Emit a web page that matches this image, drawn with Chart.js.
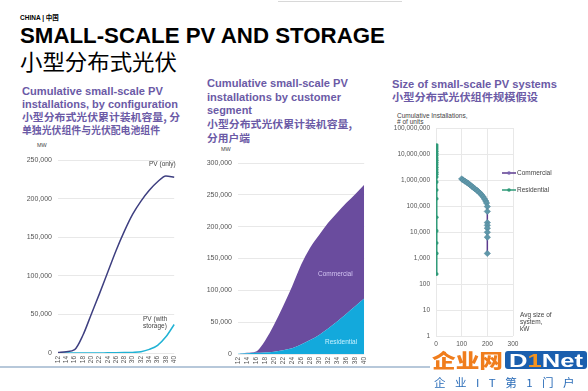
<!DOCTYPE html>
<html>
<head>
<meta charset="utf-8">
<script src="https://cdn.jsdelivr.net/npm/chart.js@4"></script>
<style>
  body { margin: 0; width: 588px; height: 391px; background: #fff; position: relative; overflow: hidden;
         font-family: "Liberation Sans", Arial, sans-serif; }
  .t { position: absolute; white-space: nowrap; line-height: 1; }
  .purple { color: #6b5aa6; font-weight: bold; font-size: 11px; }
  .cjk { font-family: "Noto Sans CJK SC", sans-serif; }
  .small { font-size: 6.5px; color: #444; }
  .box { position: absolute; }
</style>
</head>
<body>

<div class="t" style="left:20px;top:13.5px;font-size:6.5px;font-weight:bold;">CHINA | <span class="cjk">中国</span></div>
<div class="t" data-w="365" style="left:20px;top:25px;font-size:22px;font-weight:bold;">SMALL-SCALE PV AND STORAGE</div>
<div class="t cjk" data-w="157" style="left:20px;top:49px;font-size:22px;">小型分布式光伏</div>

<!-- chart 1 titles -->
<div class="t purple" data-w="141" style="left:22px;top:86px;">Cumulative small-scale PV</div>
<div class="t purple" data-w="156" style="left:22px;top:99px;">installations, by configuration</div>
<div class="t purple cjk" data-w="158" style="left:22px;top:111.5px;font-size:10px;">小型分布式光伏累计装机容量, 分</div>
<div class="t purple cjk" data-w="138" style="left:22px;top:124.5px;font-size:10px;">单独光伏组件与光伏配电池组件</div>
<div class="t" style="left:37px;top:142.5px;font-size:5.5px;color:#444;">MW</div>

<!-- chart 2 titles -->
<div class="t purple" data-w="141" style="left:207px;top:78px;">Cumulative small-scale PV</div>
<div class="t purple" data-w="134" style="left:207px;top:92px;">installations by customer</div>
<div class="t purple" data-w="45" style="left:207px;top:105px;">segment</div>
<div class="t purple cjk" data-w="145" style="left:207px;top:118.5px;font-size:10px;">小型分布式光伏累计装机容量,</div>
<div class="t purple cjk" data-w="43" style="left:207px;top:132.5px;font-size:10px;">分用户端</div>
<div class="t" style="left:221px;top:147px;font-size:5.5px;color:#444;">MW</div>

<!-- chart 3 titles -->
<div class="t purple" data-w="165" style="left:392px;top:78.5px;">Size of small-scale PV systems</div>
<div class="t purple cjk" data-w="146" style="left:392px;top:91.5px;font-size:10px;">小型分布式光伏组件规模假设</div>
<div class="t small" style="left:397px;top:112.5px;">Cumulative Installations,</div>
<div class="t small" style="left:397px;top:119px;"># of units</div>

<div class="box" style="left:0;top:150px;width:185px;height:222px;"><canvas id="configChart"></canvas></div>
<div class="box" style="left:185px;top:150px;width:190px;height:222px;"><canvas id="segmentChart"></canvas></div>
<div class="box" style="left:385px;top:115px;width:200px;height:235px;"><canvas id="sizeChart"></canvas></div>

<!-- in-chart labels -->
<div class="t small" style="left:149px;top:161px;">PV (only)</div>
<div class="t small" style="left:143px;top:316px;">PV (with</div>
<div class="t small" style="left:143px;top:323px;">storage)</div>
<div class="t" style="left:318px;top:271px;font-size:6.5px;color:#d2c4f2;">Commercial</div>
<div class="t" style="left:325px;top:339px;font-size:6.5px;color:#c8f1ff;">Residential</div>
<div class="t small" style="left:520px;top:312px;">Avg size of</div>
<div class="t small" style="left:520px;top:319px;">system,</div>
<div class="t small" style="left:520px;top:326px;">kW</div>

<!-- separator lines -->
<div class="box" style="left:0;top:366px;width:430px;height:2px;background:#b7c8da;"></div>
<div class="box" style="left:278px;top:1px;width:124px;height:1px;background:#d8d8d8;"></div>

<!-- watermark -->
<div class="t cjk" data-w="71" style="left:432px;top:350px;font-size:19px;font-weight:900;color:#f07d1c;">企业网</div>
<div class="box" style="left:505px;top:351px;width:82px;height:18px;background:#1b5fae;border-radius:3px;"></div>
<div class="t" data-w="74" style="left:509px;top:351px;font-size:19px;font-weight:bold;color:#fff;">D<span style="color:#f5931e">1</span>Net</div>
<div class="t cjk" data-w="150" style="left:434px;top:377px;font-size:11px;color:#2a6cb8;letter-spacing:9px;">企业IT第1门户</div>

<script>
// chart 1 + 2 categories (2012..2040, every 2 years)
const years = ['12', '14', '16', '18', '20', '22', '24', '26', '28', '30', '32', '34', '36', '38', '40'];

// chart 1: by configuration, MW
const pvOnly =    [500, 1700, 4300, 23000, 50000, 77000, 105000, 133000, 158000, 180000, 197000, 211000, 222000, 229500, 228000];
const pvStorage = [0, 0, 0, 0, 0, 100, 200, 300, 500, 800, 1700, 4700, 10000, 21000, 37000];

// chart 2: by customer segment, MW
const residentialMW = [300, 1000, 2000, 2500, 3500, 6000, 9000, 15000, 22000, 30000, 40000, 51000, 63000, 75000, 87000];
const commercialMW =  [200, 1000, 2000, 18500, 42500, 69000, 97000, 125000, 145000, 157000, 166000, 171000, 174000, 176000, 179000];
const mwTicks = [0, 50000, 100000, 150000, 200000, 250000, 300000];

// chart 3: system size (kW) vs cumulative installations (units)
const commercialSize =  [100, 106, 113, 120, 126, 133, 139, 146, 152, 159, 165, 172, 178, 184, 189, 194, 197, 200, 200, 200, 200, 200, 200, 200, 200];
const commercialUnits = [1100000, 1000000, 900000, 810000, 730000, 650000, 575000, 510000, 455000, 405000, 360000, 310000, 265000, 225000, 187000, 155000, 130000, 95000, 62000, 23000, 18000, 14000, 9800, 6300, 1500];
const residentialSize =  [3, 3, 3, 3, 3, 3, 3, 3, 3, 3, 3, 3, 3, 3, 3, 3, 3, 3, 3, 3, 3, 3, 3];
const residentialUnits = [240, 1500, 3800, 11000, 37000, 190000, 410000, 830000, 1300000, 1650000, 2000000, 2500000, 3100000, 3900000, 4700000, 5800000, 7000000, 8700000, 10500000, 12800000, 15500000, 18500000, 22000000];
const unitTicks = [1, 10, 100, 1000, 10000, 100000, 1000000, 10000000, 100000000];
const sizeTicks = [0, 100, 200, 300];

Chart.defaults.font.family = '"Liberation Sans", Arial, sans-serif';
Chart.defaults.color = '#555';
Chart.defaults.animation = false;

const fmt = v => Number(v).toLocaleString('en-US');
const gridColor = '#e8e8e8';

function xCats(height) {
    return {
        grid: { display: false, drawTicks: false },
        border: { display: false },
        ticks: { font: { size: 6.5 }, maxRotation: 90, minRotation: 90, padding: 3, autoSkip: false, color: '#555' },
        afterFit(scale) { scale.height = height; },
    };
}
function yMW(width, max) {
    return {
        min: 0, max: max,
        grid: { color: gridColor, drawTicks: false },
        border: { display: false },
        ticks: { font: { size: 7 }, padding: 6, callback: fmt },
        afterBuildTicks(scale) { scale.ticks = mwTicks.filter(t => t <= max).map(v => ({ value: v })); },
        afterFit(scale) { scale.width = width; },
    };
}

// chart 1
new Chart(document.getElementById('configChart'), {
    type: 'line',
    data: {
        labels: years,
        datasets: [
            { label: 'PV (only)', data: pvOnly, borderColor: '#3e3f80', borderWidth: 1.5, pointRadius: 0, tension: 0.4, cubicInterpolationMode: 'monotone' },
            { label: 'PV (with storage)', data: pvStorage, borderColor: '#20b2d4', borderWidth: 1.5, pointRadius: 0, tension: 0.4, cubicInterpolationMode: 'monotone' },
        ],
    },
    options: {
        responsive: true, maintainAspectRatio: false,
        layout: { padding: { top: 9, right: 5, bottom: 0, left: 0 } },
        plugins: { legend: { display: false }, tooltip: { enabled: false } },
        scales: { x: xCats(19), y: yMW(58, 250000) },
    },
});

// chart 2
new Chart(document.getElementById('segmentChart'), {
    type: 'line',
    data: {
        labels: years,
        datasets: [
            { label: 'Residential', data: residentialMW, backgroundColor: '#13a9dc', borderWidth: 0, pointRadius: 0, fill: 'origin', cubicInterpolationMode: 'monotone' },
            { label: 'Commercial', data: commercialMW, backgroundColor: '#6a4c9e', borderWidth: 0, pointRadius: 0, fill: '-1', cubicInterpolationMode: 'monotone' },
        ],
    },
    options: {
        responsive: true, maintainAspectRatio: false,
        layout: { padding: { top: 13, right: 7, bottom: 0, left: 0 } },
        plugins: { legend: { display: false }, tooltip: { enabled: false } },
        scales: { x: xCats(18), y: Object.assign(yMW(53, 300000), { stacked: true }) },
    },
});

// legend for chart 3 drawn next to the plot
const sizeLegend = {
    id: 'sizeLegend',
    afterDraw(chart) {
        const ctx = chart.ctx;
        const items = [
            { text: 'Commercial', line: '#5b3a8e', fill: '#7a64b0', y: 58 },
            { text: 'Residential', line: '#2f9a78', fill: '#2f9a78', y: 75 },
        ];
        ctx.save();
        items.forEach(it => {
            ctx.strokeStyle = it.line; ctx.lineWidth = 1.5;
            ctx.beginPath(); ctx.moveTo(117, it.y); ctx.lineTo(131, it.y); ctx.stroke();
            ctx.fillStyle = it.fill;
            ctx.beginPath(); ctx.arc(124, it.y, 1.8, 0, Math.PI * 2); ctx.fill();
            ctx.fillStyle = '#444'; ctx.font = '6.5px "Liberation Sans", Arial, sans-serif';
            ctx.textBaseline = 'middle';
            ctx.fillText(it.text, 132, it.y);
        });
        ctx.restore();
    },
};

// chart 3
new Chart(document.getElementById('sizeChart'), {
    type: 'scatter',
    data: {
        datasets: [
            {
                label: 'Residential',
                data: residentialSize.map((x, i) => ({ x: x, y: residentialUnits[i] })),
                showLine: true, borderColor: '#2f9a78', borderWidth: 1.5,
                pointStyle: 'circle', pointRadius: 1.8, pointBackgroundColor: '#2f9a78', pointBorderWidth: 0,
            },
            {
                label: 'Commercial',
                data: commercialSize.map((x, i) => ({ x: x, y: commercialUnits[i] })),
                showLine: true, borderColor: '#5b3a8e', borderWidth: 1.5,
                pointStyle: 'rectRot', pointRadius: 3.2, pointBackgroundColor: '#5f97a9', pointBorderColor: '#4f8598', pointBorderWidth: 0.5,
            },
        ],
    },
    options: {
        responsive: true, maintainAspectRatio: false,
        layout: { padding: { top: 13, right: 72, bottom: 0, left: 0 } },
        plugins: { legend: { display: false }, tooltip: { enabled: false } },
        scales: {
            x: {
                type: 'linear', min: 0, max: 300,
                grid: { color: gridColor, drawTicks: false },
                border: { display: false },
                ticks: { font: { size: 6.5 }, padding: 4 },
                afterBuildTicks(scale) { scale.ticks = sizeTicks.map(v => ({ value: v })); },
                afterFit(scale) { scale.height = 14; },
            },
            y: {
                type: 'logarithmic', min: 1, max: 100000000,
                grid: { color: gridColor, drawTicks: false },
                border: { display: false },
                ticks: { font: { size: 6.5 }, padding: 6, callback: fmt },
                afterBuildTicks(scale) { scale.ticks = unitTicks.map(v => ({ value: v })); },
                afterFit(scale) { scale.width = 51; },
            },
        },
    },
    plugins: [sizeLegend],
});

// squeeze headline texts to the widths seen in the picture
document.querySelectorAll('[data-w]').forEach(el => {
    const w = el.getBoundingClientRect().width;
    const target = Number(el.dataset.w);
    el.style.transformOrigin = 'left top';
    el.style.transform = 'scaleX(' + (target / w).toFixed(3) + ')';
});
</script>
</body>
</html>
